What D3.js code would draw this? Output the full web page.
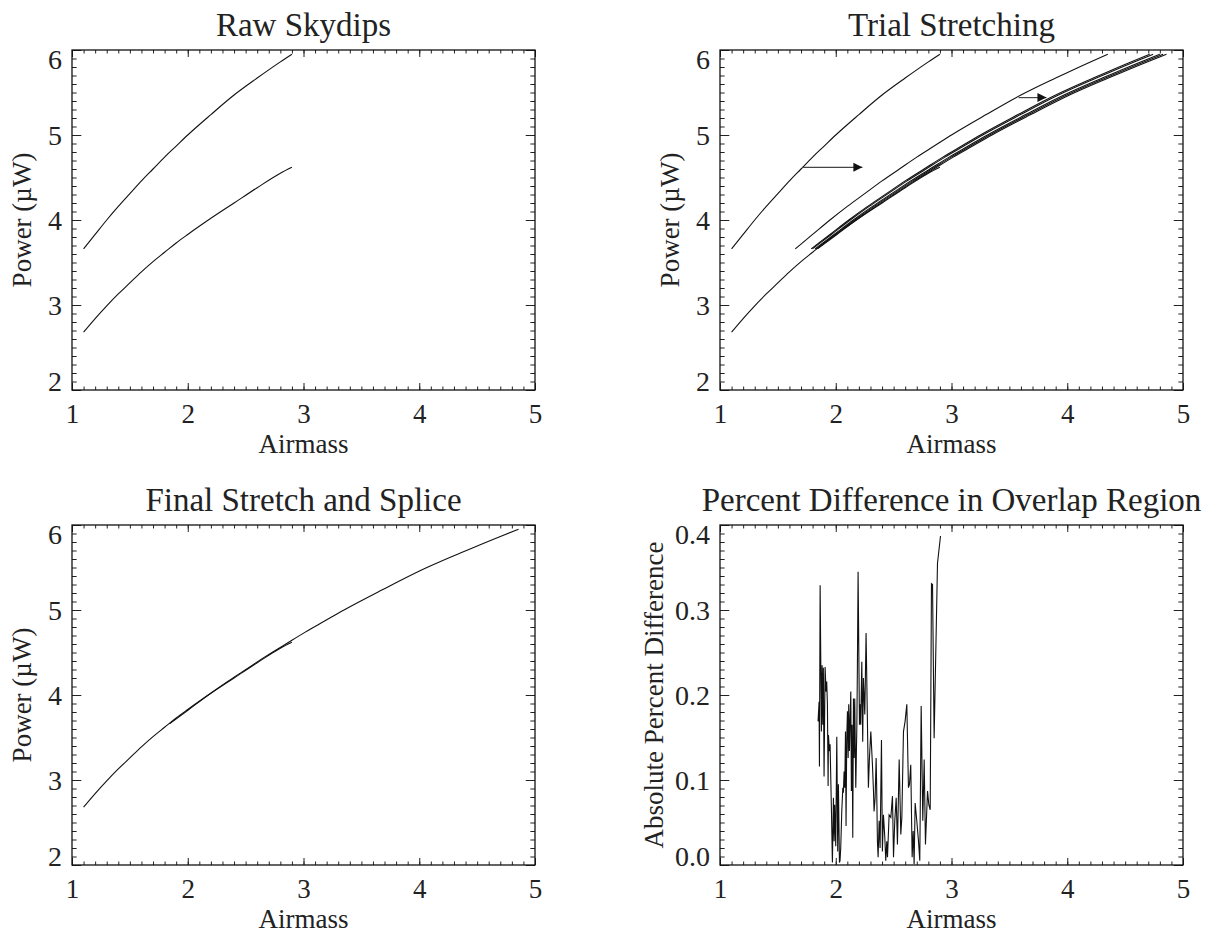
<!DOCTYPE html>
<html lang="en">
<head>
<meta charset="utf-8">
<title>Skydip Stretch and Splice</title>
<style>
  body { margin: 0; background: #fff; }
  svg { display: block; font-family: "Liberation Serif", "Times New Roman", serif; }
  .tick line { stroke: #222; }
  .tick text { fill: #222; }
  .curve { fill: none; stroke: #111; stroke-width: 1.1; }
</style>
</head>
<body>
<svg id="chart" width="1220" height="935"></svg>
<script src="https://d3js.org/d3.v7.min.js"></script>
<script>

  // skydip curves (airmass, power in uW)
  const dipAirmass = [1.1, 1.2, 1.3, 1.4, 1.5, 1.6, 1.7, 1.8, 1.9, 2.0, 2.2, 2.4, 2.6, 2.8, 2.9];
  const lowPower  = [2.68, 2.84, 2.99, 3.13, 3.26, 3.39, 3.51, 3.62, 3.73, 3.83, 4.02, 4.20, 4.38, 4.55, 4.62];
  const highPower = [3.66, 3.83, 4.00, 4.16, 4.31, 4.46, 4.60, 4.74, 4.87, 5.00, 5.24, 5.47, 5.67, 5.86, 5.95];

  // airmass stretch factors tried on the high skydip, and the one kept
  const trialStretch = [1.50, 1.625, 1.635, 1.655, 1.665, 1.675];
  const finalStretch = 1.675;

  // the two arrows in the trial panel
  const arrowFrom  = [1.71, 3.58];
  const arrowTo    = [2.23, 3.82];
  const arrowPower = [4.62, 5.44];

  // absolute percent difference in the overlap
  const diffAirmass = [1.847, 1.856, 1.859, 1.865, 1.876, 1.882, 1.888, 1.893, 1.899, 1.908,
    1.916, 1.922, 1.928, 1.934, 1.937, 1.945, 1.951, 1.963, 1.971, 1.980,
    1.986, 1.991, 2.000, 2.009, 2.017, 2.023, 2.032, 2.037, 2.043, 2.052,
    2.061, 2.066, 2.072, 2.078, 2.084, 2.089, 2.095, 2.101, 2.107, 2.112,
    2.118, 2.124, 2.130, 2.135, 2.141, 2.147, 2.153, 2.159, 2.164, 2.173,
    2.182, 2.187, 2.193, 2.205, 2.210, 2.216, 2.225, 2.233, 2.239, 2.251,
    2.262, 2.274, 2.282, 2.291, 2.303, 2.317, 2.326, 2.331, 2.340, 2.349,
    2.354, 2.360, 2.366, 2.375, 2.383, 2.395, 2.403, 2.412, 2.424, 2.432,
    2.441, 2.447, 2.461, 2.476, 2.490, 2.499, 2.510, 2.522, 2.533, 2.548,
    2.562, 2.571, 2.585, 2.599, 2.614, 2.628, 2.637, 2.648, 2.660, 2.669,
    2.677, 2.686, 2.700, 2.715, 2.726, 2.738, 2.752, 2.764, 2.775, 2.793,
    2.804, 2.816, 2.827, 2.836, 2.850, 2.879, 2.905];
  const diffPercent = [0.169, 0.192, 0.116, 0.329, 0.157, 0.235, 0.165, 0.232, 0.104, 0.233,
    0.204, 0.216, 0.189, 0.093, 0.153, 0.134, 0.142, 0.063, 0.003, 0.079,
    0.028, 0.071, 0.022, 0.151, 0.016, 0.095, 0.003, 0.005, 0.020, 0.063,
    0.091, 0.085, 0.110, 0.091, 0.157, 0.046, 0.149, 0.181, 0.126, 0.189,
    0.134, 0.173, 0.204, 0.087, 0.165, 0.032, 0.196, 0.126, 0.196, 0.091,
    0.161, 0.232, 0.345, 0.165, 0.189, 0.165, 0.239, 0.145, 0.220, 0.177,
    0.273, 0.165, 0.091, 0.126, 0.157, 0.118, 0.087, 0.063, 0.079, 0.126,
    0.087, 0.028, 0.009, 0.052, 0.020, 0.147, 0.016, 0.059, 0.032, 0.005,
    0.028, 0.009, 0.059, 0.056, 0.081, 0.009, 0.052, 0.079, 0.024, 0.124,
    0.036, 0.056, 0.157, 0.169, 0.189, 0.091, 0.095, 0.118, 0.009, 0.040,
    0.001, 0.073, 0.052, 0.028, 0.005, 0.187, 0.052, 0.124, 0.024, 0.087,
    0.071, 0.065, 0.331, 0.330, 0.149, 0.355, 0.387];

  const airmassTicks = [1, 2, 3, 4, 5];
  const powerTicks = [2, 3, 4, 5, 6];
  const diffTicks = [0.0, 0.1, 0.2, 0.3, 0.4];

  const W = 1220, H = 935;
  const pw = 463, ph = 340;

  const svg = d3.select("#chart");
  svg.append("rect").attr("width", W).attr("height", H).attr("fill", "#fff");

  svg.append("defs").append("marker")
    .attr("id", "head")
    .attr("markerUnits", "userSpaceOnUse")
    .attr("markerWidth", 10).attr("markerHeight", 10)
    .attr("refX", 9).attr("refY", 5)
    .attr("orient", "auto")
    .append("path")
    .attr("d", "M0,0.5L9,5L0,9.5Z")
    .attr("fill", "#111");

  const pair = (xs, ys, k = 1) => xs.map((a, i) => [a * k, ys[i]]);

  function panel(left, top, title, yTicks, yFmt, yLabel, yLabelGap) {
    const g = svg.append("g").attr("transform", `translate(${left},${top})`);
    const x = d3.scaleLinear().domain(d3.extent(airmassTicks)).range([0, pw]);
    const y = d3.scaleLinear().domain(d3.extent(yTicks)).range([ph, 0]);
    const xMinor = x.ticks(40), yMinor = y.ticks(40);
    const xLen = 7, yLen = 9.3;

    // minor ticks all round
    g.append("g").attr("transform", `translate(0,${ph})`)
      .call(d3.axisBottom(x).tickValues(xMinor).tickSize(-xLen / 2).tickFormat(""));
    g.append("g").call(d3.axisTop(x).tickValues(xMinor).tickSize(-xLen / 2).tickFormat(""));
    g.append("g").call(d3.axisLeft(y).tickValues(yMinor).tickSize(-yLen / 2).tickFormat(""));
    g.append("g").attr("transform", `translate(${pw},0)`)
      .call(d3.axisRight(y).tickValues(yMinor).tickSize(-yLen / 2).tickFormat(""));

    // major ticks, labelled on bottom and left
    g.append("g").attr("transform", `translate(0,${ph})`)
      .call(d3.axisBottom(x).tickValues(airmassTicks).tickSize(-xLen).tickPadding(13.5).tickFormat(d3.format("d")))
      .attr("font-size", 27).attr("font-family", null);
    g.append("g").call(d3.axisTop(x).tickValues(airmassTicks).tickSize(-xLen).tickFormat(""));
    const yMin = yTicks[0], yMax = yTicks[yTicks.length - 1];
    g.append("g")
      .call(d3.axisLeft(y).tickValues(yTicks).tickSize(-yLen).tickPadding(10).tickFormat(yFmt))
      .attr("font-size", 28).attr("font-family", null)
      .selectAll("text")
      .attr("dy", d => d === yMax ? "0.66em" : d === yMin ? "0em" : "0.33em");
    g.append("g").attr("transform", `translate(${pw},0)`)
      .call(d3.axisRight(y).tickValues(yTicks).tickSize(-yLen).tickFormat(""));

    g.selectAll(".domain").remove();
    g.selectAll(".tick line").attr("stroke-width", 1);

    g.append("rect").attr("width", pw).attr("height", ph)
      .attr("fill", "none").attr("stroke", "#111").attr("stroke-width", 1.3);

    g.append("text").attr("x", pw / 2).attr("y", -14)
      .attr("text-anchor", "middle").attr("font-size", 33).attr("fill", "#222")
      .text(title);
    g.append("text").attr("x", pw / 2).attr("y", ph + 63)
      .attr("text-anchor", "middle").attr("font-size", 27).attr("fill", "#222")
      .text("Airmass");
    g.append("text")
      .attr("transform", `translate(${-yLabelGap},${ph / 2}) rotate(-90)`)
      .attr("text-anchor", "middle").attr("font-size", 27).attr("fill", "#222")
      .text(yLabel);

    const line = d3.line().x(d => x(d[0])).y(d => y(d[1]));
    const smooth = d3.line().x(d => x(d[0])).y(d => y(d[1])).curve(d3.curveMonotoneX);
    return { g, x, y, line, smooth };
  }

  const fmtInt = d3.format("d"), fmtDiff = d3.format(".1f");

  // Raw Skydips
  const p1 = panel(72, 50, "Raw Skydips", powerTicks, fmtInt, "Power (\u00b5W)", 41);
  [lowPower, highPower].forEach(vals => {
    p1.g.append("path").attr("class", "curve").attr("d", p1.smooth(pair(dipAirmass, vals)));
  });

  // Trial Stretching
  const p2 = panel(720, 50, "Trial Stretching", powerTicks, fmtInt, "Power (\u00b5W)", 41);
  p2.g.append("path").attr("class", "curve").attr("d", p2.smooth(pair(dipAirmass, lowPower)));
  p2.g.append("path").attr("class", "curve").attr("d", p2.smooth(pair(dipAirmass, highPower)));
  trialStretch.forEach(k => {
    p2.g.append("path").attr("class", "curve").attr("stroke-width", 0.9)
      .attr("d", p2.smooth(pair(dipAirmass, highPower, k)));
  });
  arrowFrom.forEach((a, i) => {
    p2.g.append("line")
      .attr("x1", p2.x(a)).attr("x2", p2.x(arrowTo[i]))
      .attr("y1", p2.y(arrowPower[i])).attr("y2", p2.y(arrowPower[i]))
      .attr("stroke", "#444").attr("stroke-width", 1.2)
      .attr("marker-end", "url(#head)");
  });

  // Final Stretch and Splice
  const p3 = panel(72, 525, "Final Stretch and Splice", powerTicks, fmtInt, "Power (\u00b5W)", 41);
  p3.g.append("path").attr("class", "curve").attr("d", p3.smooth(pair(dipAirmass, lowPower)));
  p3.g.append("path").attr("class", "curve").attr("d", p3.smooth(pair(dipAirmass, highPower, finalStretch)));

  // Percent Difference in Overlap Region
  const p4 = panel(720, 525, "Percent Difference in Overlap Region", diffTicks, fmtDiff, "Absolute Percent Difference", 57);
  p4.g.append("path").attr("class", "curve").attr("stroke-width", 1.3)
    .attr("d", p4.line(pair(diffAirmass, diffPercent)));

</script>
</body>
</html>
